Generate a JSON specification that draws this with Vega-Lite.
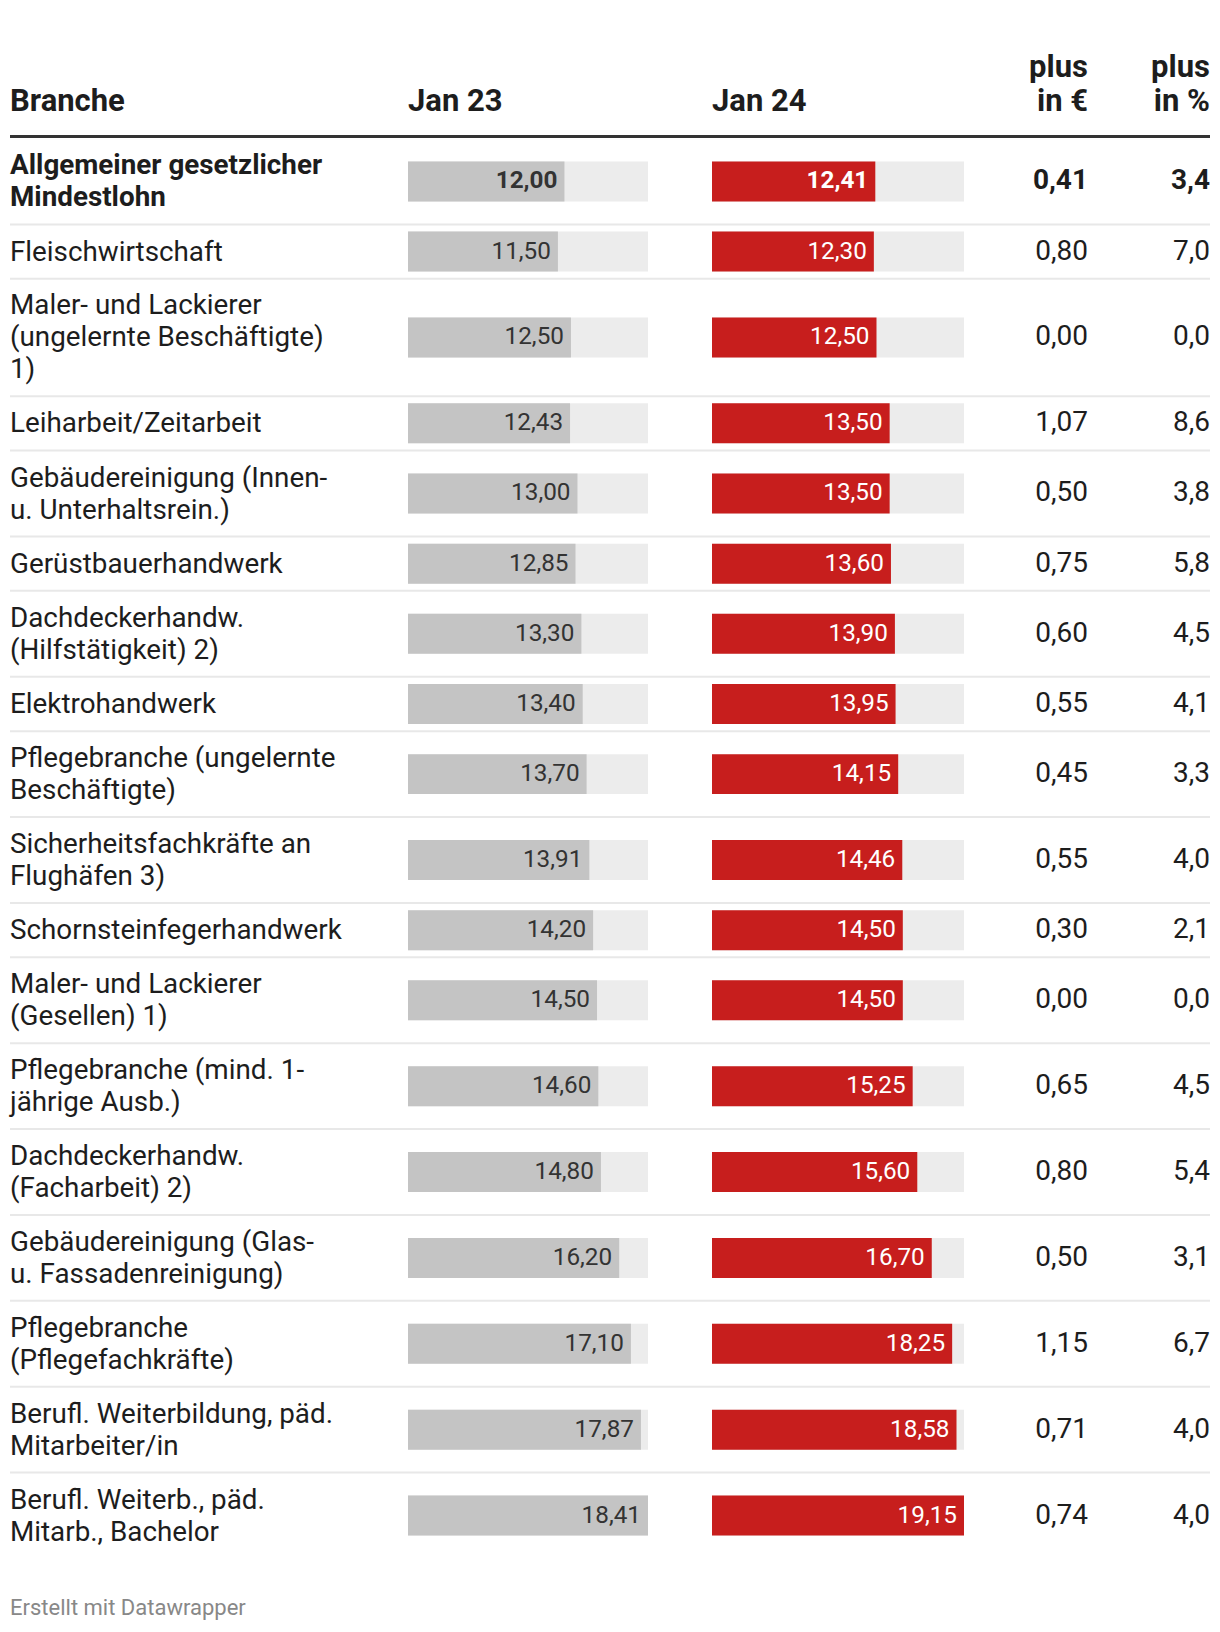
{
  "$schema": "https://vega.github.io/schema/vega-lite/v6.json",
  "padding": {"left": 8, "right": 10, "top": 51.5, "bottom": 10},
  "background": "white",
  "spacing": 0,
  "bounds": "flush",
  "config": {
    "view": {"stroke": null},
    "font": "Roboto",
    "locale": {"number": {"decimal": ",", "thousands": ".", "grouping": [3], "currency": ["", " €"]}}
  },
  "title": {"text": "Erstellt mit Datawrapper", "orient": "bottom", "anchor": "start", "frame": "group", "baseline": "alphabetic", "offset": 56.5, "fontSize": 22, "fontWeight": "normal", "font": "Roboto", "color": "#888888"},
  "data": {"values": [
    {"nr": 1, "branche": "Allgemeiner gesetzlicher\nMindestlohn", "j23": 12.00, "j24": 12.41, "eur": 0.41, "pct": 3.4},
    {"nr": 2, "branche": "Fleischwirtschaft", "j23": 11.50, "j24": 12.30, "eur": 0.80, "pct": 7.0},
    {"nr": 3, "branche": "Maler- und Lackierer\n(ungelernte Beschäftigte)\n1)", "j23": 12.50, "j24": 12.50, "eur": 0.00, "pct": 0.0},
    {"nr": 4, "branche": "Leiharbeit/Zeitarbeit", "j23": 12.43, "j24": 13.50, "eur": 1.07, "pct": 8.6},
    {"nr": 5, "branche": "Gebäudereinigung (Innen-\nu. Unterhaltsrein.)", "j23": 13.00, "j24": 13.50, "eur": 0.50, "pct": 3.8},
    {"nr": 6, "branche": "Gerüstbauerhandwerk", "j23": 12.85, "j24": 13.60, "eur": 0.75, "pct": 5.8},
    {"nr": 7, "branche": "Dachdeckerhandw.\n(Hilfstätigkeit) 2)", "j23": 13.30, "j24": 13.90, "eur": 0.60, "pct": 4.5},
    {"nr": 8, "branche": "Elektrohandwerk", "j23": 13.40, "j24": 13.95, "eur": 0.55, "pct": 4.1},
    {"nr": 9, "branche": "Pflegebranche (ungelernte\nBeschäftigte)", "j23": 13.70, "j24": 14.15, "eur": 0.45, "pct": 3.3},
    {"nr": 10, "branche": "Sicherheitsfachkräfte an\nFlughäfen 3)", "j23": 13.91, "j24": 14.46, "eur": 0.55, "pct": 4.0},
    {"nr": 11, "branche": "Schornsteinfegerhandwerk", "j23": 14.20, "j24": 14.50, "eur": 0.30, "pct": 2.1},
    {"nr": 12, "branche": "Maler- und Lackierer\n(Gesellen) 1)", "j23": 14.50, "j24": 14.50, "eur": 0.00, "pct": 0.0},
    {"nr": 13, "branche": "Pflegebranche (mind. 1-\njährige Ausb.)", "j23": 14.60, "j24": 15.25, "eur": 0.65, "pct": 4.5},
    {"nr": 14, "branche": "Dachdeckerhandw.\n(Facharbeit) 2)", "j23": 14.80, "j24": 15.60, "eur": 0.80, "pct": 5.4},
    {"nr": 15, "branche": "Gebäudereinigung (Glas-\nu. Fassadenreinigung)", "j23": 16.20, "j24": 16.70, "eur": 0.50, "pct": 3.1},
    {"nr": 16, "branche": "Pflegebranche\n(Pflegefachkräfte)", "j23": 17.10, "j24": 18.25, "eur": 1.15, "pct": 6.7},
    {"nr": 17, "branche": "Berufl. Weiterbildung, päd.\nMitarbeiter/in", "j23": 17.87, "j24": 18.58, "eur": 0.71, "pct": 4.0},
    {"nr": 18, "branche": "Berufl. Weiterb., päd.\nMitarb., Bachelor", "j23": 18.41, "j24": 19.15, "eur": 0.74, "pct": 4.0}
  ]},
  "transform": [
    {"calculate": "length(split(datum.branche, '\\n'))", "as": "lines"},
    {"calculate": "23 + 31.45 * datum.lines", "as": "h"},
    {"window": [{"op": "sum", "field": "h", "as": "cum"}], "sort": [{"field": "nr", "order": "ascending"}], "frame": [null, 0]},
    {"calculate": "datum.cum + 2", "as": "bottom"},
    {"calculate": "datum.bottom - datum.h", "as": "top"},
    {"calculate": "datum.top + datum.h / 2", "as": "mid"},
    {"calculate": "datum.mid - (datum.lines - 1) * 16 + 1", "as": "ty"},
    {"calculate": "datum.mid - 20", "as": "b0"},
    {"calculate": "datum.mid + 20", "as": "b1"},
    {"calculate": "0", "as": "zero"},
    {"joinaggregate": [{"op": "max", "field": "j23", "as": "max23"}, {"op": "max", "field": "j24", "as": "max24"}]}
  ],
  "hconcat": [
    {
      "width": 398, "height": 1422,
      "title": {"text": "Branche", "anchor": "start", "frame": "group", "orient": "top", "baseline": "bottom", "offset": -13.7, "fontSize": 31, "fontWeight": "bold", "color": "#1d1d1d", "font": "Roboto", "lineHeight": 34},
      "layer": [
        {"transform": [{"filter": "datum.nr > 1"}], "mark": {"type": "rule", "color": "#e8e8e8", "strokeWidth": 2},
         "encoding": {"y": {"field": "top", "type": "quantitative", "scale": {"domain": [0, 1422.4], "reverse": true, "nice": false, "zero": false}, "axis": null}}},
        {"transform": [{"filter": "datum.nr === 1"}], "mark": {"type": "rule", "color": "#333333", "strokeWidth": 3},
         "encoding": {"y": {"field": "zero", "type": "quantitative", "axis": null}}},
        {"transform": [{"filter": "datum.nr !== 1"}], "mark": {"type": "text", "align": "left", "baseline": "middle", "lineBreak": "\n", "fontSize": 27.8, "lineHeight": 32, "color": "#1d1d1d", "font": "Roboto"},
         "encoding": {"x": {"value": 0}, "y": {"field": "ty", "type": "quantitative", "axis": null}, "text": {"field": "branche", "type": "nominal"}}},
        {"transform": [{"filter": "datum.nr === 1"}], "mark": {"type": "text", "align": "left", "baseline": "middle", "lineBreak": "\n", "fontSize": 27.8, "lineHeight": 32, "color": "#1d1d1d", "font": "Roboto", "fontWeight": "bold"},
         "encoding": {"x": {"value": 0}, "y": {"field": "ty", "type": "quantitative", "axis": null}, "text": {"field": "branche", "type": "nominal"}}}
      ]
    },
    {
      "width": 304, "height": 1422,
      "title": {"text": "Jan 23", "anchor": "start", "frame": "group", "orient": "top", "baseline": "bottom", "offset": -13.7, "fontSize": 31, "fontWeight": "bold", "color": "#1d1d1d", "font": "Roboto", "lineHeight": 34},
      "layer": [
        {"transform": [{"filter": "datum.nr > 1"}], "mark": {"type": "rule", "color": "#e8e8e8", "strokeWidth": 2},
         "encoding": {"y": {"field": "top", "type": "quantitative", "scale": {"domain": [0, 1422.4], "reverse": true, "nice": false, "zero": false}, "axis": null}}},
        {"transform": [{"filter": "datum.nr === 1"}], "mark": {"type": "rule", "color": "#333333", "strokeWidth": 3},
         "encoding": {"y": {"field": "zero", "type": "quantitative", "axis": null}}},
        {"mark": {"type": "rect", "color": "#ececec"},
         "encoding": {"x": {"field": "max23", "type": "quantitative", "scale": {"nice": false, "zero": true, "range": [0, 240]}, "axis": null}, "x2": {"field": "zero"}, "y": {"field": "b0", "type": "quantitative", "axis": null}, "y2": {"field": "b1"}}},
        {"mark": {"type": "rect", "color": "#c4c4c4"},
         "encoding": {"x": {"field": "j23", "type": "quantitative", "axis": null}, "x2": {"field": "zero"}, "y": {"field": "b0", "type": "quantitative", "axis": null}, "y2": {"field": "b1"}}},
        {"transform": [{"filter": "datum.nr !== 1"}], "mark": {"type": "text", "align": "right", "baseline": "middle", "dx": -7, "fontSize": 24.3, "color": "#333333", "font": "Roboto"},
         "encoding": {"x": {"field": "j23", "type": "quantitative", "axis": null}, "y": {"field": "mid", "type": "quantitative", "axis": null}, "text": {"field": "j23", "type": "quantitative", "format": ".2f"}}},
        {"transform": [{"filter": "datum.nr === 1"}], "mark": {"type": "text", "align": "right", "baseline": "middle", "dx": -7, "fontSize": 24.3, "color": "#333333", "font": "Roboto", "fontWeight": "bold"},
         "encoding": {"x": {"field": "j23", "type": "quantitative", "axis": null}, "y": {"field": "mid", "type": "quantitative", "axis": null}, "text": {"field": "j23", "type": "quantitative", "format": ".2f"}}}
      ]
    },
    {
      "width": 280, "height": 1422,
      "title": {"text": "Jan 24", "anchor": "start", "frame": "group", "orient": "top", "baseline": "bottom", "offset": -13.7, "fontSize": 31, "fontWeight": "bold", "color": "#1d1d1d", "font": "Roboto", "lineHeight": 34},
      "layer": [
        {"transform": [{"filter": "datum.nr > 1"}], "mark": {"type": "rule", "color": "#e8e8e8", "strokeWidth": 2},
         "encoding": {"y": {"field": "top", "type": "quantitative", "scale": {"domain": [0, 1422.4], "reverse": true, "nice": false, "zero": false}, "axis": null}}},
        {"transform": [{"filter": "datum.nr === 1"}], "mark": {"type": "rule", "color": "#333333", "strokeWidth": 3},
         "encoding": {"y": {"field": "zero", "type": "quantitative", "axis": null}}},
        {"mark": {"type": "rect", "color": "#ececec"},
         "encoding": {"x": {"field": "max24", "type": "quantitative", "scale": {"nice": false, "zero": true, "range": [0, 252]}, "axis": null}, "x2": {"field": "zero"}, "y": {"field": "b0", "type": "quantitative", "axis": null}, "y2": {"field": "b1"}}},
        {"mark": {"type": "rect", "color": "#c71e1d"},
         "encoding": {"x": {"field": "j24", "type": "quantitative", "axis": null}, "x2": {"field": "zero"}, "y": {"field": "b0", "type": "quantitative", "axis": null}, "y2": {"field": "b1"}}},
        {"transform": [{"filter": "datum.nr !== 1"}], "mark": {"type": "text", "align": "right", "baseline": "middle", "dx": -7, "fontSize": 24.3, "color": "#ffffff", "font": "Roboto"},
         "encoding": {"x": {"field": "j24", "type": "quantitative", "axis": null}, "y": {"field": "mid", "type": "quantitative", "axis": null}, "text": {"field": "j24", "type": "quantitative", "format": ".2f"}}},
        {"transform": [{"filter": "datum.nr === 1"}], "mark": {"type": "text", "align": "right", "baseline": "middle", "dx": -7, "fontSize": 24.3, "color": "#ffffff", "font": "Roboto", "fontWeight": "bold"},
         "encoding": {"x": {"field": "j24", "type": "quantitative", "axis": null}, "y": {"field": "mid", "type": "quantitative", "axis": null}, "text": {"field": "j24", "type": "quantitative", "format": ".2f"}}}
      ]
    },
    {
      "width": 96, "height": 1422,
      "title": {"text": ["plus", "in €"], "anchor": "end", "frame": "group", "orient": "top", "baseline": "bottom", "offset": -13.7, "fontSize": 31, "fontWeight": "bold", "color": "#1d1d1d", "font": "Roboto", "lineHeight": 34},
      "layer": [
        {"transform": [{"filter": "datum.nr > 1"}], "mark": {"type": "rule", "color": "#e8e8e8", "strokeWidth": 2},
         "encoding": {"y": {"field": "top", "type": "quantitative", "scale": {"domain": [0, 1422.4], "reverse": true, "nice": false, "zero": false}, "axis": null}}},
        {"transform": [{"filter": "datum.nr === 1"}], "mark": {"type": "rule", "color": "#333333", "strokeWidth": 3},
         "encoding": {"y": {"field": "zero", "type": "quantitative", "axis": null}}},
        {"transform": [{"filter": "datum.nr !== 1"}], "mark": {"type": "text", "align": "right", "baseline": "middle", "fontSize": 28, "color": "#1d1d1d", "font": "Roboto"},
         "encoding": {"x": {"value": "width"}, "y": {"field": "mid", "type": "quantitative", "axis": null}, "text": {"field": "eur", "type": "quantitative", "format": ".2f"}}},
        {"transform": [{"filter": "datum.nr === 1"}], "mark": {"type": "text", "align": "right", "baseline": "middle", "fontSize": 28, "color": "#1d1d1d", "font": "Roboto", "fontWeight": "bold"},
         "encoding": {"x": {"value": "width"}, "y": {"field": "mid", "type": "quantitative", "axis": null}, "text": {"field": "eur", "type": "quantitative", "format": ".2f"}}}
      ]
    },
    {
      "width": 122, "height": 1422,
      "title": {"text": ["plus", "in %"], "anchor": "end", "frame": "group", "orient": "top", "baseline": "bottom", "offset": -13.7, "fontSize": 31, "fontWeight": "bold", "color": "#1d1d1d", "font": "Roboto", "lineHeight": 34},
      "layer": [
        {"transform": [{"filter": "datum.nr > 1"}], "mark": {"type": "rule", "color": "#e8e8e8", "strokeWidth": 2},
         "encoding": {"y": {"field": "top", "type": "quantitative", "scale": {"domain": [0, 1422.4], "reverse": true, "nice": false, "zero": false}, "axis": null}}},
        {"transform": [{"filter": "datum.nr === 1"}], "mark": {"type": "rule", "color": "#333333", "strokeWidth": 3},
         "encoding": {"y": {"field": "zero", "type": "quantitative", "axis": null}}},
        {"transform": [{"filter": "datum.nr !== 1"}], "mark": {"type": "text", "align": "right", "baseline": "middle", "fontSize": 28, "color": "#1d1d1d", "font": "Roboto"},
         "encoding": {"x": {"value": "width"}, "y": {"field": "mid", "type": "quantitative", "axis": null}, "text": {"field": "pct", "type": "quantitative", "format": ".1f"}}},
        {"transform": [{"filter": "datum.nr === 1"}], "mark": {"type": "text", "align": "right", "baseline": "middle", "fontSize": 28, "color": "#1d1d1d", "font": "Roboto", "fontWeight": "bold"},
         "encoding": {"x": {"value": "width"}, "y": {"field": "mid", "type": "quantitative", "axis": null}, "text": {"field": "pct", "type": "quantitative", "format": ".1f"}}}
      ]
    }
  ]
}
